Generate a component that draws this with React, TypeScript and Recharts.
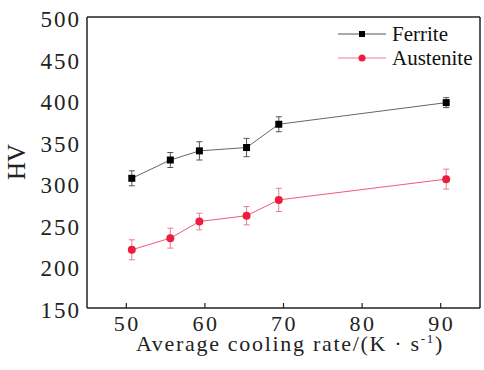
import React from "react";
import { LineChart, Line, XAxis, YAxis, ErrorBar, ReferenceLine, Legend } from "recharts";

const coolingRates = [50.7, 55.6, 59.3, 65.3, 69.4, 90.7];
const ferriteHV = [306, 328, 339, 343, 371, 397];
const ferriteErr = [9, 9, 11, 11, 9, 6];
const austeniteHV = [220, 234, 254, 261, 280, 305];
const austeniteErr = [12, 12, 10, 11, 14, 12];
const xTicks = [50, 60, 70, 80, 90];
const yTicks = [150, 200, 250, 300, 350, 400, 450, 500];

const data = coolingRates.map((x, i) => ({
  x,
  ferrite: ferriteHV[i],
  ferriteErr: ferriteErr[i],
  austenite: austeniteHV[i],
  austeniteErr: austeniteErr[i],
}));

const FONT = "Liberation Serif";
const RED = "#ee1c3f";
const INK = "#222";

const SquareDot = (props: any) => {
  const { cx, cy, index } = props;
  if (cx == null || cy == null) return null;
  return <rect key={`sq-${index}`} x={cx - 3.5} y={cy - 3.5} width={7} height={7} fill="#000" />;
};

const XTick = (props: any) => {
  const { x, y, payload } = props;
  return (
    <text x={x + 1} y={y + 15} textAnchor="middle" fontFamily={FONT} fontSize={22} letterSpacing={2.5} fill={INK}>
      {payload.value}
    </text>
  );
};

const YTick = (props: any) => {
  const { x, y, payload } = props;
  return (
    <text x={x} y={y + 10} textAnchor="end" fontFamily={FONT} fontSize={23} letterSpacing={2} fill={INK}>
      {payload.value}
    </text>
  );
};

const legendItems = [
  { name: "Ferrite", line: "#555", mark: "square" },
  { name: "Austenite", line: "#f07a90", mark: "circle" },
];

const renderLegend = () => (
  <svg width={145} height={48}>
    {legendItems.map((it, i) => {
      const cy = 12 + i * 24;
      return (
        <g key={it.name}>
          <line x1={2} y1={cy} x2={50} y2={cy} stroke={it.line} strokeWidth={1} />
          {it.mark === "square" ? (
            <rect x={23} y={cy - 3} width={6} height={6} fill="#000" />
          ) : (
            <circle cx={26} cy={cy} r={3.5} fill={RED} />
          )}
          <text x={56} y={cy + 7} fontFamily={FONT} fontSize={21} fill="#111">
            {it.name}
          </text>
        </g>
      );
    })}
  </svg>
);

const XLabel = () => (
  <text x={290} y={351} textAnchor="middle" fontFamily={FONT} fontSize={22} fill={INK} letterSpacing={1.7}>
    Average cooling rate/(K · s
    <tspan dy={-8} fontSize={13}>-1</tspan>
    <tspan dy={8}>)</tspan>
  </text>
);

const YLabel = () => (
  <text
    x={16}
    y={162}
    transform="rotate(-90 16 162)"
    textAnchor="middle"
    dominantBaseline="central"
    fontFamily={FONT}
    fontSize={25}
    fill={INK}
  >
    HV
  </text>
);

export default function App() {
  return (
    <div style={{ position: "absolute", left: 0, top: 0, width: 484, height: 370, background: "#fff", fontFamily: FONT }}>
      <LineChart width={484} height={370} data={data} margin={{ top: 17, right: 4, left: 0, bottom: 0 }}>
        <XAxis
          dataKey="x"
          type="number"
          domain={[45, 95]}
          ticks={xTicks}
          height={62}
          tickSize={-5}
          tickMargin={13}
          axisLine={{ stroke: INK, strokeWidth: 1.5 }}
          tickLine={{ stroke: INK, strokeWidth: 1.2 }}
          tick={<XTick />}
          label={<XLabel />}
        />
        <YAxis
          type="number"
          domain={[150, 500]}
          ticks={yTicks}
          width={87}
          tickSize={0}
          tickMargin={6}
          axisLine={{ stroke: INK, strokeWidth: 1.5 }}
          tickLine={false}
          tick={<YTick />}
          label={<YLabel />}
        />
        <ReferenceLine y={500} stroke={INK} strokeWidth={1.5} />
        <ReferenceLine x={95} stroke={INK} strokeWidth={1.5} />
        <Line
          dataKey="ferrite"
          stroke="#666"
          strokeWidth={1}
          dot={<SquareDot />}
          isAnimationActive={false}
        >
          <ErrorBar dataKey="ferriteErr" width={3} stroke="#555" strokeWidth={1} direction="y" />
        </Line>
        <Line
          dataKey="austenite"
          stroke="#f05a78"
          strokeWidth={1}
          dot={{ r: 4, fill: RED, stroke: RED, strokeWidth: 0 }}
          isAnimationActive={false}
        >
          <ErrorBar dataKey="austeniteErr" width={3} stroke="#f07a90" strokeWidth={1} direction="y" />
        </Line>
        <Legend
          layout="horizontal"
          verticalAlign="middle"
          align="center"
          content={renderLegend}
          wrapperStyle={{ position: "absolute", left: 336, top: 22, width: 145 }}
        />
      </LineChart>
    </div>
  );
}
